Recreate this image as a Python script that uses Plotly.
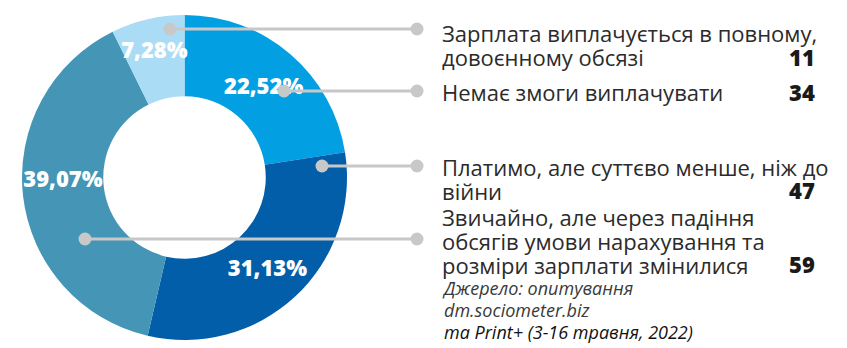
import plotly.graph_objects as go

# ---- data ----
categories = [
    "Зарплата виплачується в повному, довоєнному обсязі",
    "Немає змоги виплачувати",
    "Платимо, але суттєво менше, ніж до війни",
    "Звичайно, але через падіння обсягів умови нарахування та розміри зарплати змінилися",
]
label_lines = [
    ["Зарплата виплачується в повному,", "довоєнному обсязі"],
    ["Немає змоги виплачувати"],
    ["Платимо, але суттєво менше, ніж до", "війни"],
    ["Звичайно, але через падіння", "обсягів умови нарахування та", "розміри зарплати змінилися"],
]
values = [11, 34, 47, 59]
colors = ["#abdcf6", "#029fe3", "#025ea9", "#4495b6"]
source_lines = ["Джерело: опитування", "dm.sociometer.biz", "та Print+ (3-16 травня, 2022)"]

W, H = 847, 348
FONT = "Open Sans"

# pie order: clockwise from top: 22.52, 31.13, 39.07, 7.28
order = [1, 2, 3, 0]
fig = go.Figure()
fig.add_trace(go.Pie(
    labels=[categories[i] for i in order],
    values=[values[i] for i in order],
    marker=dict(colors=[colors[i] for i in order], line=dict(width=0)),
    hole=0.5,
    sort=False,
    direction="clockwise",
    rotation=0,
    texttemplate="%{percent:.2%}",
    textposition="inside",
    insidetextorientation="horizontal",
    textfont=dict(family=FONT, size=22, color="white", weight=800),
    domain=dict(x=[22 / W, 347 / W], y=[(H - 340) / H, (H - 15) / H]),
    showlegend=False,
    hoverinfo="label+value+percent",
))

def px(x):
    return x / W

def py(y):
    return (H - y) / H

# connectors (pixel positions of pie-side dot, line y)
conn = [(170, 29), (284, 91), (322, 166), (85, 239)]
shapes = []
for (x0, y0) in conn:
    shapes.append(dict(type="line", xref="paper", yref="paper", x0=px(x0), x1=px(417), y0=py(y0), y1=py(y0),
                       line=dict(color="#c8c8c8", width=3)))
    for xx in (x0, 417):
        shapes.append(dict(type="circle", xref="paper", yref="paper", xsizemode="pixel", ysizemode="pixel",
                           xanchor=px(xx), yanchor=py(y0), x0=-6.5, x1=6.5, y0=-6.5, y1=6.5,
                           fillcolor="#c8c8c8", line=dict(width=0)))

annotations = []
LEAD = 24.0  # px between lines
label_mid = [44.5, 92, 178.5, 240.5]
label_last = [57, 92, 190, 264]
for lines, ym, yl, v in zip(label_lines, label_mid, label_last, values):
    txt = "<br>".join(f'<span style="font-size:22px">{t}</span>' for t in lines)
    annotations.append(dict(text=txt, x=px(440), y=py(ym), xref="paper", yref="paper", xanchor="left",
                            yanchor="middle", align="left", showarrow=False,
                            font=dict(family=FONT, size=LEAD / 1.3, color="#2b2b2b")))
    annotations.append(dict(text=f"{v}", x=px(817), y=py(yl), xref="paper", yref="paper",
                            xanchor="right", yanchor="middle", showarrow=False,
                            font=dict(family=FONT, size=22, color="#1a1a1a", weight=800)))

src_cols = ["#3a3a3a", "#3a3a3a", "#111111"]
src_txt = "<br>".join(f'<span style="font-size:18px;color:{c}"><i>{t}</i></span>'
                      for t, c in zip(source_lines, src_cols))
annotations.append(dict(text=src_txt, x=px(440), y=py(310), xref="paper", yref="paper", xanchor="left",
                        yanchor="middle", align="left", showarrow=False,
                        font=dict(family=FONT, size=22 / 1.3, color="#3a3a3a")))

fig.update_layout(
    width=W, height=H, margin=dict(l=0, r=0, t=0, b=0),
    paper_bgcolor="white", plot_bgcolor="white",
    separators=", ",
    uniformtext=dict(minsize=22, mode="show"),
    shapes=shapes, annotations=annotations,
)
fig.write_html("out.html")
